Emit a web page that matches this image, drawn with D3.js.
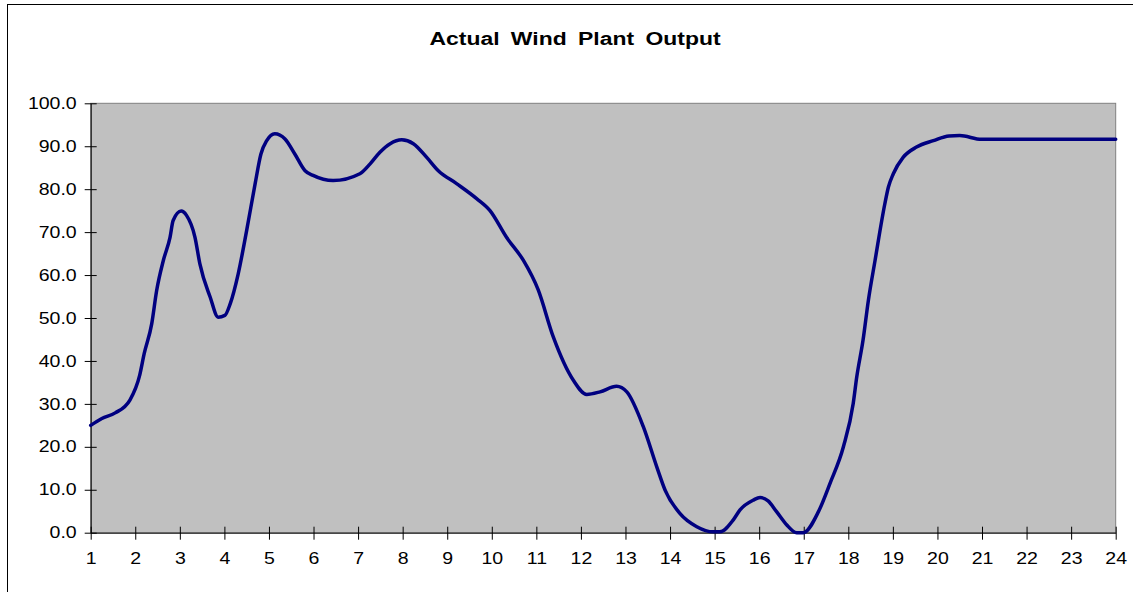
<!DOCTYPE html>
<html>
<head>
<meta charset="utf-8">
<script src="https://cdn.jsdelivr.net/npm/d3@7"></script>
<style>
  html, body { margin: 0; padding: 0; background: #fff; }
  svg { display: block; }
</style>
</head>
<body>
<svg id="chart" width="1133" height="592"></svg>
<script>
// ---- data ----
const title = "Actual Wind Plant Output";
const hours = [
  1.00, 1.25, 1.55, 1.88, 2.10, 2.20, 2.37, 2.48, 2.63, 2.78, 2.85, 3.03, 3.15, 3.34, 3.45, 3.68, 3.86, 4.01, 4.13, 4.31,
  4.50, 4.69, 4.82, 4.95, 5.13, 5.36, 5.58, 5.81, 5.99, 6.44, 7.04, 7.27, 7.49, 7.72, 7.98, 8.24, 8.54, 8.80, 9.21, 9.66,
  9.96, 10.33, 10.71, 11.04, 11.38, 11.83, 12.13, 12.43, 12.80, 13.03, 13.40, 13.70, 13.89, 14.22, 14.60, 14.97, 15.12, 15.42, 15.57, 15.87,
  16.02, 16.20, 16.39, 16.62, 16.84, 16.99, 17.33, 17.59, 17.89, 18.11, 18.19, 18.33, 18.45, 18.60, 18.82, 18.90, 19.01, 19.23, 19.53, 19.91,
  20.26, 20.50, 20.99, 22.00, 23.00, 24.00
];
const output = [
  25.0, 26.6, 27.9, 30.9, 36.7, 41.7, 48.7, 56.4, 63.4, 68.8, 72.7, 74.9, 73.9, 68.8, 62.6, 54.9, 50.2, 50.6, 53.3, 60.3,
  70.4, 81.3, 88.2, 91.3, 92.9, 91.7, 88.2, 84.3, 83.2, 82.0, 83.6, 85.9, 88.6, 90.6, 91.5, 90.6, 87.4, 84.3, 81.3, 77.8,
  75.0, 68.8, 63.4, 56.6, 45.6, 35.5, 32.2, 32.8, 34.1, 32.8, 24.7, 15.4, 9.9, 4.5, 1.4, 0.2, 0.2, 3.0, 5.3, 7.6,
  8.2, 7.4, 4.9, 1.8, 0.0, 0.0, 4.9, 11.5, 20.0, 30.1, 36.3, 44.8, 54.1, 63.4, 76.6, 80.5, 83.6, 87.4, 89.8, 91.3,
  92.4, 92.5, 91.6, 91.6, 91.6, 91.6
];
const xTicks = d3.range(1, 25);               // 1 .. 24
const yTicks = [0, 10, 20, 30, 40, 50, 60, 70, 80, 90, 100];

// ---- layout ----
const svg = d3.select("#chart");
const plot = { left: 90.7, right: 1115.7, top: 103.3, bottom: 532.7 };
const font = "'Liberation Sans', Arial, sans-serif";
const stretch = 1.22;   // reference text is horizontally stretched

// outer chart border
svg.append("rect")
  .attr("x", 7.5).attr("y", 4.5)
  .attr("width", 1140).attr("height", 600)
  .attr("fill", "#fff").attr("stroke", "#000").attr("stroke-width", 1);

const x = d3.scaleLinear().domain([1, 24]).range([plot.left, plot.right]);
const y = d3.scaleLinear().domain([0, 100]).range([plot.bottom, plot.top]);

// plot area background
svg.append("rect")
  .attr("x", plot.left).attr("y", plot.top)
  .attr("width", plot.right - plot.left).attr("height", plot.bottom - plot.top)
  .attr("fill", "#C0C0C0").attr("stroke", "#808080").attr("stroke-width", 1);

// title
svg.append("g").attr("transform", `translate(575,45) scale(1.24,1)`)
  .append("text")
  .attr("x", 0).attr("y", 0)
  .attr("text-anchor", "middle")
  .attr("font-family", font).attr("font-weight", "bold").attr("font-size", 18.5)
  .attr("word-spacing", 4)
  .attr("fill", "#000")
  .text(title);

// y axis
const yAxis = d3.axisLeft(y)
  .tickValues(yTicks)
  .tickFormat(d3.format(".1f"))
  .tickSizeInner(6).tickSizeOuter(0).tickPadding(8);
const gy = svg.append("g").attr("transform", `translate(${plot.left},0)`).call(yAxis);
gy.select(".domain").attr("stroke", "#000");
gy.selectAll(".tick line").attr("stroke", "#000").attr("x2", 6).attr("x1", -6);
gy.selectAll(".tick text")
  .attr("font-family", font).attr("font-size", 16).attr("fill", "#000")
  .attr("x", -14 / stretch)
  .attr("transform", `scale(${stretch},1)`);

// x axis
const xAxis = d3.axisBottom(x)
  .tickValues(xTicks)
  .tickFormat(d3.format("d"))
  .tickSizeInner(6).tickSizeOuter(0).tickPadding(12);
const gx = svg.append("g").attr("transform", `translate(0,${plot.bottom})`).call(xAxis);
gx.select(".domain").attr("stroke", "#000");
gx.selectAll(".tick line").attr("stroke", "#000").attr("y1", -6).attr("y2", 7);
gx.selectAll(".tick text")
  .attr("font-family", font).attr("font-size", 16).attr("fill", "#000")
  .attr("y", 20)
  .attr("transform", `scale(${stretch},1)`);

// line
const pts = hours.map((h, i) => [h, output[i]]);
const line = d3.line()
  .x(d => x(d[0]))
  .y(d => y(d[1]))
  .curve(d3.curveMonotoneX);
svg.append("path")
  .datum(pts)
  .attr("d", line)
  .attr("fill", "none")
  .attr("stroke", "#000080")
  .attr("stroke-width", 3.5)
  .attr("stroke-linejoin", "round")
  .attr("stroke-linecap", "round");
</script>
</body>
</html>
